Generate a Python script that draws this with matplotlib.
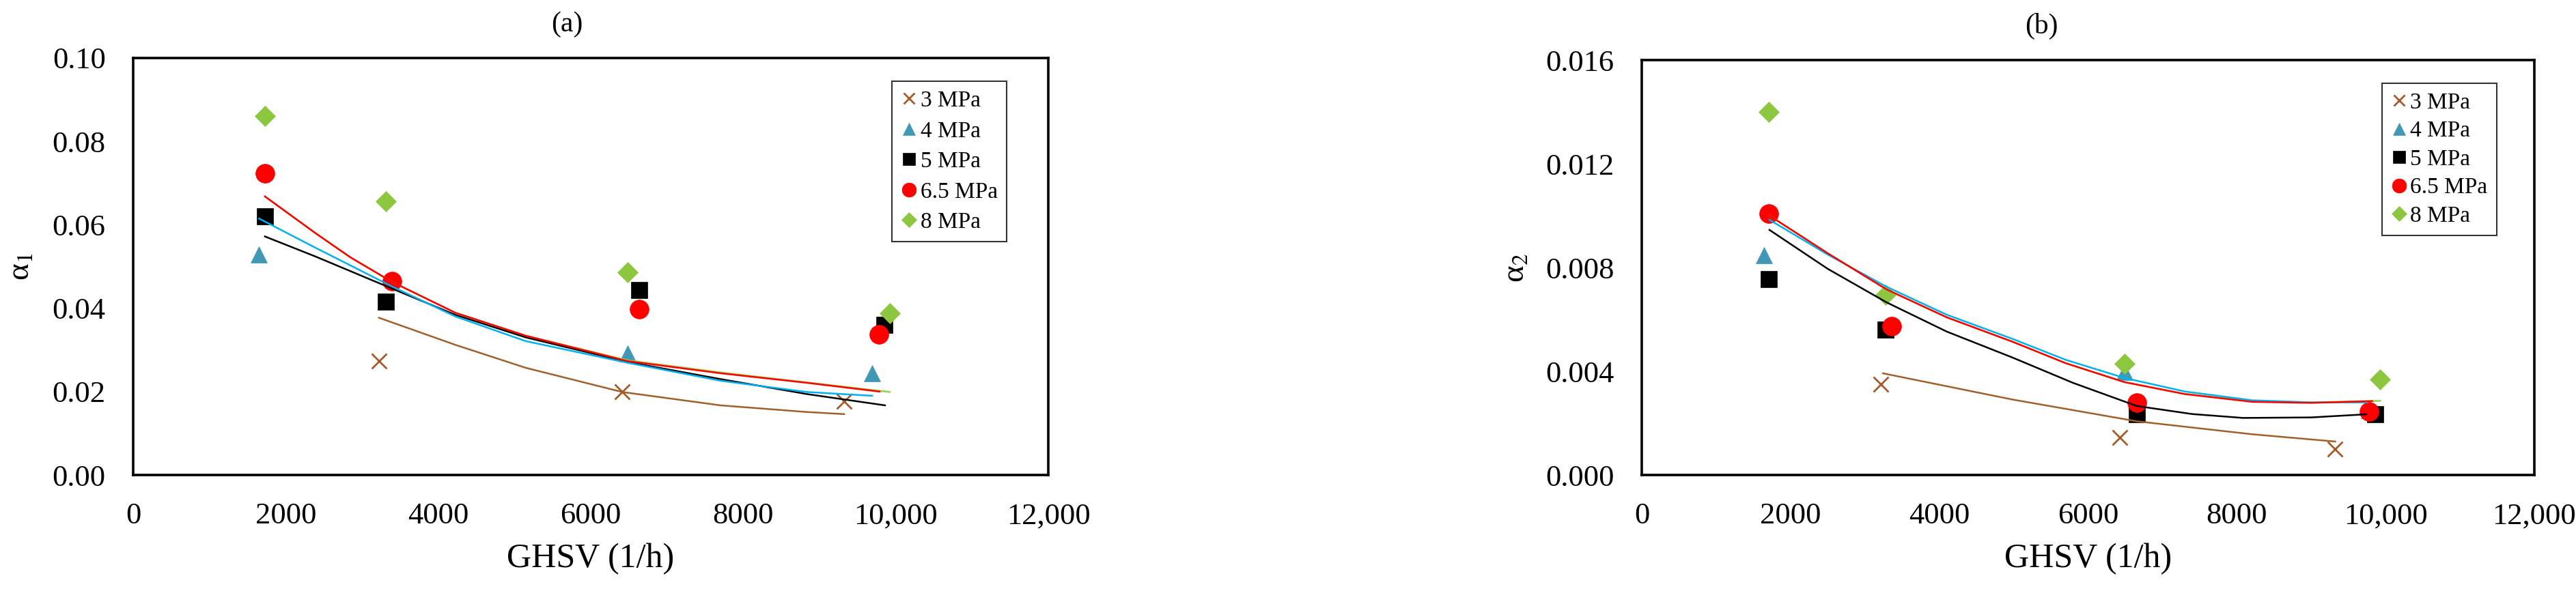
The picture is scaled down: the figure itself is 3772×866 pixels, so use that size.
import matplotlib
matplotlib.use("Agg")
import matplotlib.pyplot as plt
from matplotlib.ticker import FixedLocator, FixedFormatter

plt.rcParams["font.family"] = ["Liberation Serif", "DejaVu Serif"]
plt.rcParams["mathtext.fontset"] = "stix"

series = ["3 MPa", "4 MPa", "5 MPa", "6.5 MPa", "8 MPa"]
x_ticks = [0, 2000, 4000, 6000, 8000, 10000, 12000]
x_tick_labels = ["0", "2000", "4000", "6000", "8000", "10,000", "12,000"]

# panel (a): alpha_1, measured points (one list per pressure)
a_pts_x = [
    [3224, 6412, 9323],
    [1652, 3313, 6484, 9690],
    [1728, 3313, 6636, 9851],
    [1728, 3394, 6636, 9779],
    [1728, 3313, 6484, 9922],
]
a_pts_y = [
    [0.0274, 0.0199, 0.0176],
    [0.0529, 0.0416, 0.0291, 0.0244],
    [0.0621, 0.0416, 0.0443, 0.0360],
    [0.0723, 0.0464, 0.0398, 0.0337],
    [0.0861, 0.0657, 0.0486, 0.0388],
]
# panel (a): model curves
a_fit_x = [
    [3224, 4226, 5148, 6412, 7701, 8836, 9323],
    [1650, 2390, 3395, 4226, 5148, 6484, 7701, 8836, 9690],
    [1728, 2390, 3395, 4226, 5148, 6484, 7701, 8836, 9859],
    [1728, 2390, 2848, 3395, 4226, 5148, 6484, 7701, 8836, 9787],
    [1728, 2390, 2848, 3395, 4226, 5148, 6484, 7701, 8836, 9922],
]
a_fit_y = [
    [0.0377, 0.0312, 0.0257, 0.0199, 0.0167, 0.0151, 0.0146],
    [0.0615, 0.0545, 0.0452, 0.0380, 0.0321, 0.0269, 0.0226, 0.0199, 0.0190],
    [0.0572, 0.0524, 0.0447, 0.0384, 0.0330, 0.0271, 0.0230, 0.0194, 0.0167],
    [0.0668, 0.0580, 0.0522, 0.0463, 0.0389, 0.0334, 0.0273, 0.0244, 0.0221, 0.0200],
    [0.0668, 0.0580, 0.0522, 0.0463, 0.0389, 0.0334, 0.0275, 0.0246, 0.0222, 0.0199],
]

# panel (b): alpha_2
b_pts_x = [
    [3213, 6427, 9323],
    [1643, 3278, 6491, 9779],
    [1708, 3278, 6656, 9861],
    [1708, 3360, 6656, 9779],
    [1708, 3278, 6491, 9926],
]
b_pts_y = [
    [0.00349, 0.00145, 0.00100],
    [0.00847, 0.00560, 0.00397, 0.00250],
    [0.00755, 0.00560, 0.00234, 0.00234],
    [0.01007, 0.00574, 0.00279, 0.00246],
    [0.01400, 0.00696, 0.00430, 0.00368],
]
b_fit_x = [
    [3243, 4983, 6656, 8208, 9323],
    [1717, 2500, 3289, 4100, 4983, 5700, 6491, 7300, 8208, 9000, 9750],
    [1717, 2500, 3289, 4100, 4983, 5800, 6656, 7400, 8085, 9000, 9740],
    [1717, 2500, 3289, 4100, 4983, 5700, 6491, 7300, 8208, 9000, 9820],
    [1717, 2500, 3289, 4100, 4983, 5700, 6491, 7300, 8208, 9000, 9926],
]
b_fit_y = [
    [0.00392, 0.00291, 0.00207, 0.00157, 0.00129],
    [0.00984, 0.00850, 0.00726, 0.00618, 0.00525, 0.00444, 0.00374, 0.00322, 0.00288, 0.00280, 0.00280],
    [0.00945, 0.00795, 0.00666, 0.00553, 0.00453, 0.00355, 0.00266, 0.00235, 0.00220, 0.00222, 0.00234],
    [0.01000, 0.00855, 0.00716, 0.00608, 0.00514, 0.00431, 0.00358, 0.00312, 0.00282, 0.00278, 0.00285],
    [0.01000, 0.00855, 0.00716, 0.00608, 0.00514, 0.00431, 0.00358, 0.00313, 0.00284, 0.00280, 0.00286],
]

markers = ["x", "^", "s", "o", "D"]
marker_sizes = [16, 17, 17, 20, 15]
marker_colors = ["#A65A2A", "#4198B5", "#000000", "#FF0000", "#8DC63F"]
line_colors = ["#A0602B", "#00B0F0", "#000000", "#FF0000", "#92D050"]
line_order = [4, 0, 2, 1, 3]


def draw_panel(ax, pts_x, pts_y, fit_x, fit_y, ylim, yticks, ylabels, ylab,
               title, title_x, ylab_x, leg_spacing):
    for i, name in enumerate(series):
        ax.plot(pts_x[i], pts_y[i], linestyle="none", marker=markers[i],
                ms=marker_sizes[i], color=marker_colors[i],
                mec=marker_colors[i], mew=2.0 if markers[i] == "x" else 0.5,
                label=name, zorder=3 + i * 0.1)
    for i in line_order:
        ax.plot(fit_x[i], fit_y[i], color=line_colors[i], lw=1.8, zorder=5)

    ax.set_xlim(0, 12000)
    ax.set_ylim(*ylim)
    ax.xaxis.set_major_locator(FixedLocator(x_ticks))
    ax.xaxis.set_major_formatter(FixedFormatter(x_tick_labels))
    ax.yaxis.set_major_locator(FixedLocator(yticks))
    ax.yaxis.set_major_formatter(FixedFormatter(ylabels))
    ax.tick_params(length=0, labelsize=32, pad=29)
    for sp in ax.spines.values():
        sp.set_linewidth(2.6)
        sp.set_color("black")

    ax.set_xlabel("GHSV (1/h)", fontsize=36, labelpad=14)
    ax.set_ylabel(ylab, fontsize=34)
    ax.yaxis.set_label_coords(ylab_x, 0.5)
    ax.set_title(title, fontsize=30, x=title_x, pad=28)

    leg = ax.legend(loc="upper left", bbox_to_anchor=(0.829, 0.944), borderaxespad=0,
                    fontsize=24, frameon=True, fancybox=False, handlelength=0.7,
                    handletextpad=0.15, labelspacing=leg_spacing, borderpad=0.4,
                    markerscale=0.75)
    leg.get_frame().set_edgecolor("black")
    leg.get_frame().set_linewidth(1.5)


fig = plt.figure(figsize=(37.72, 8.66), dpi=100)
ax_a = fig.add_axes([195 / 3772, 170 / 866, 1340 / 3772, 611 / 866])
ax_b = fig.add_axes([2404 / 3772, 170 / 866, 1307 / 3772, 608 / 866])

draw_panel(ax_a, a_pts_x, a_pts_y, a_fit_x, a_fit_y, (0, 0.10),
           [0, 0.02, 0.04, 0.06, 0.08, 0.10],
           ["0.00", "0.02", "0.04", "0.06", "0.08", "0.10"],
           "α$_1$", "(a)", 0.474, -0.106, 0.42)
draw_panel(ax_b, b_pts_x, b_pts_y, b_fit_x, b_fit_y, (0, 0.016),
           [0, 0.004, 0.008, 0.012, 0.016],
           ["0.000", "0.004", "0.008", "0.012", "0.016"],
           "α$_2$", "(b)", 0.448, -0.124, 0.33)

fig.savefig("out.png", dpi=100, facecolor="white")
